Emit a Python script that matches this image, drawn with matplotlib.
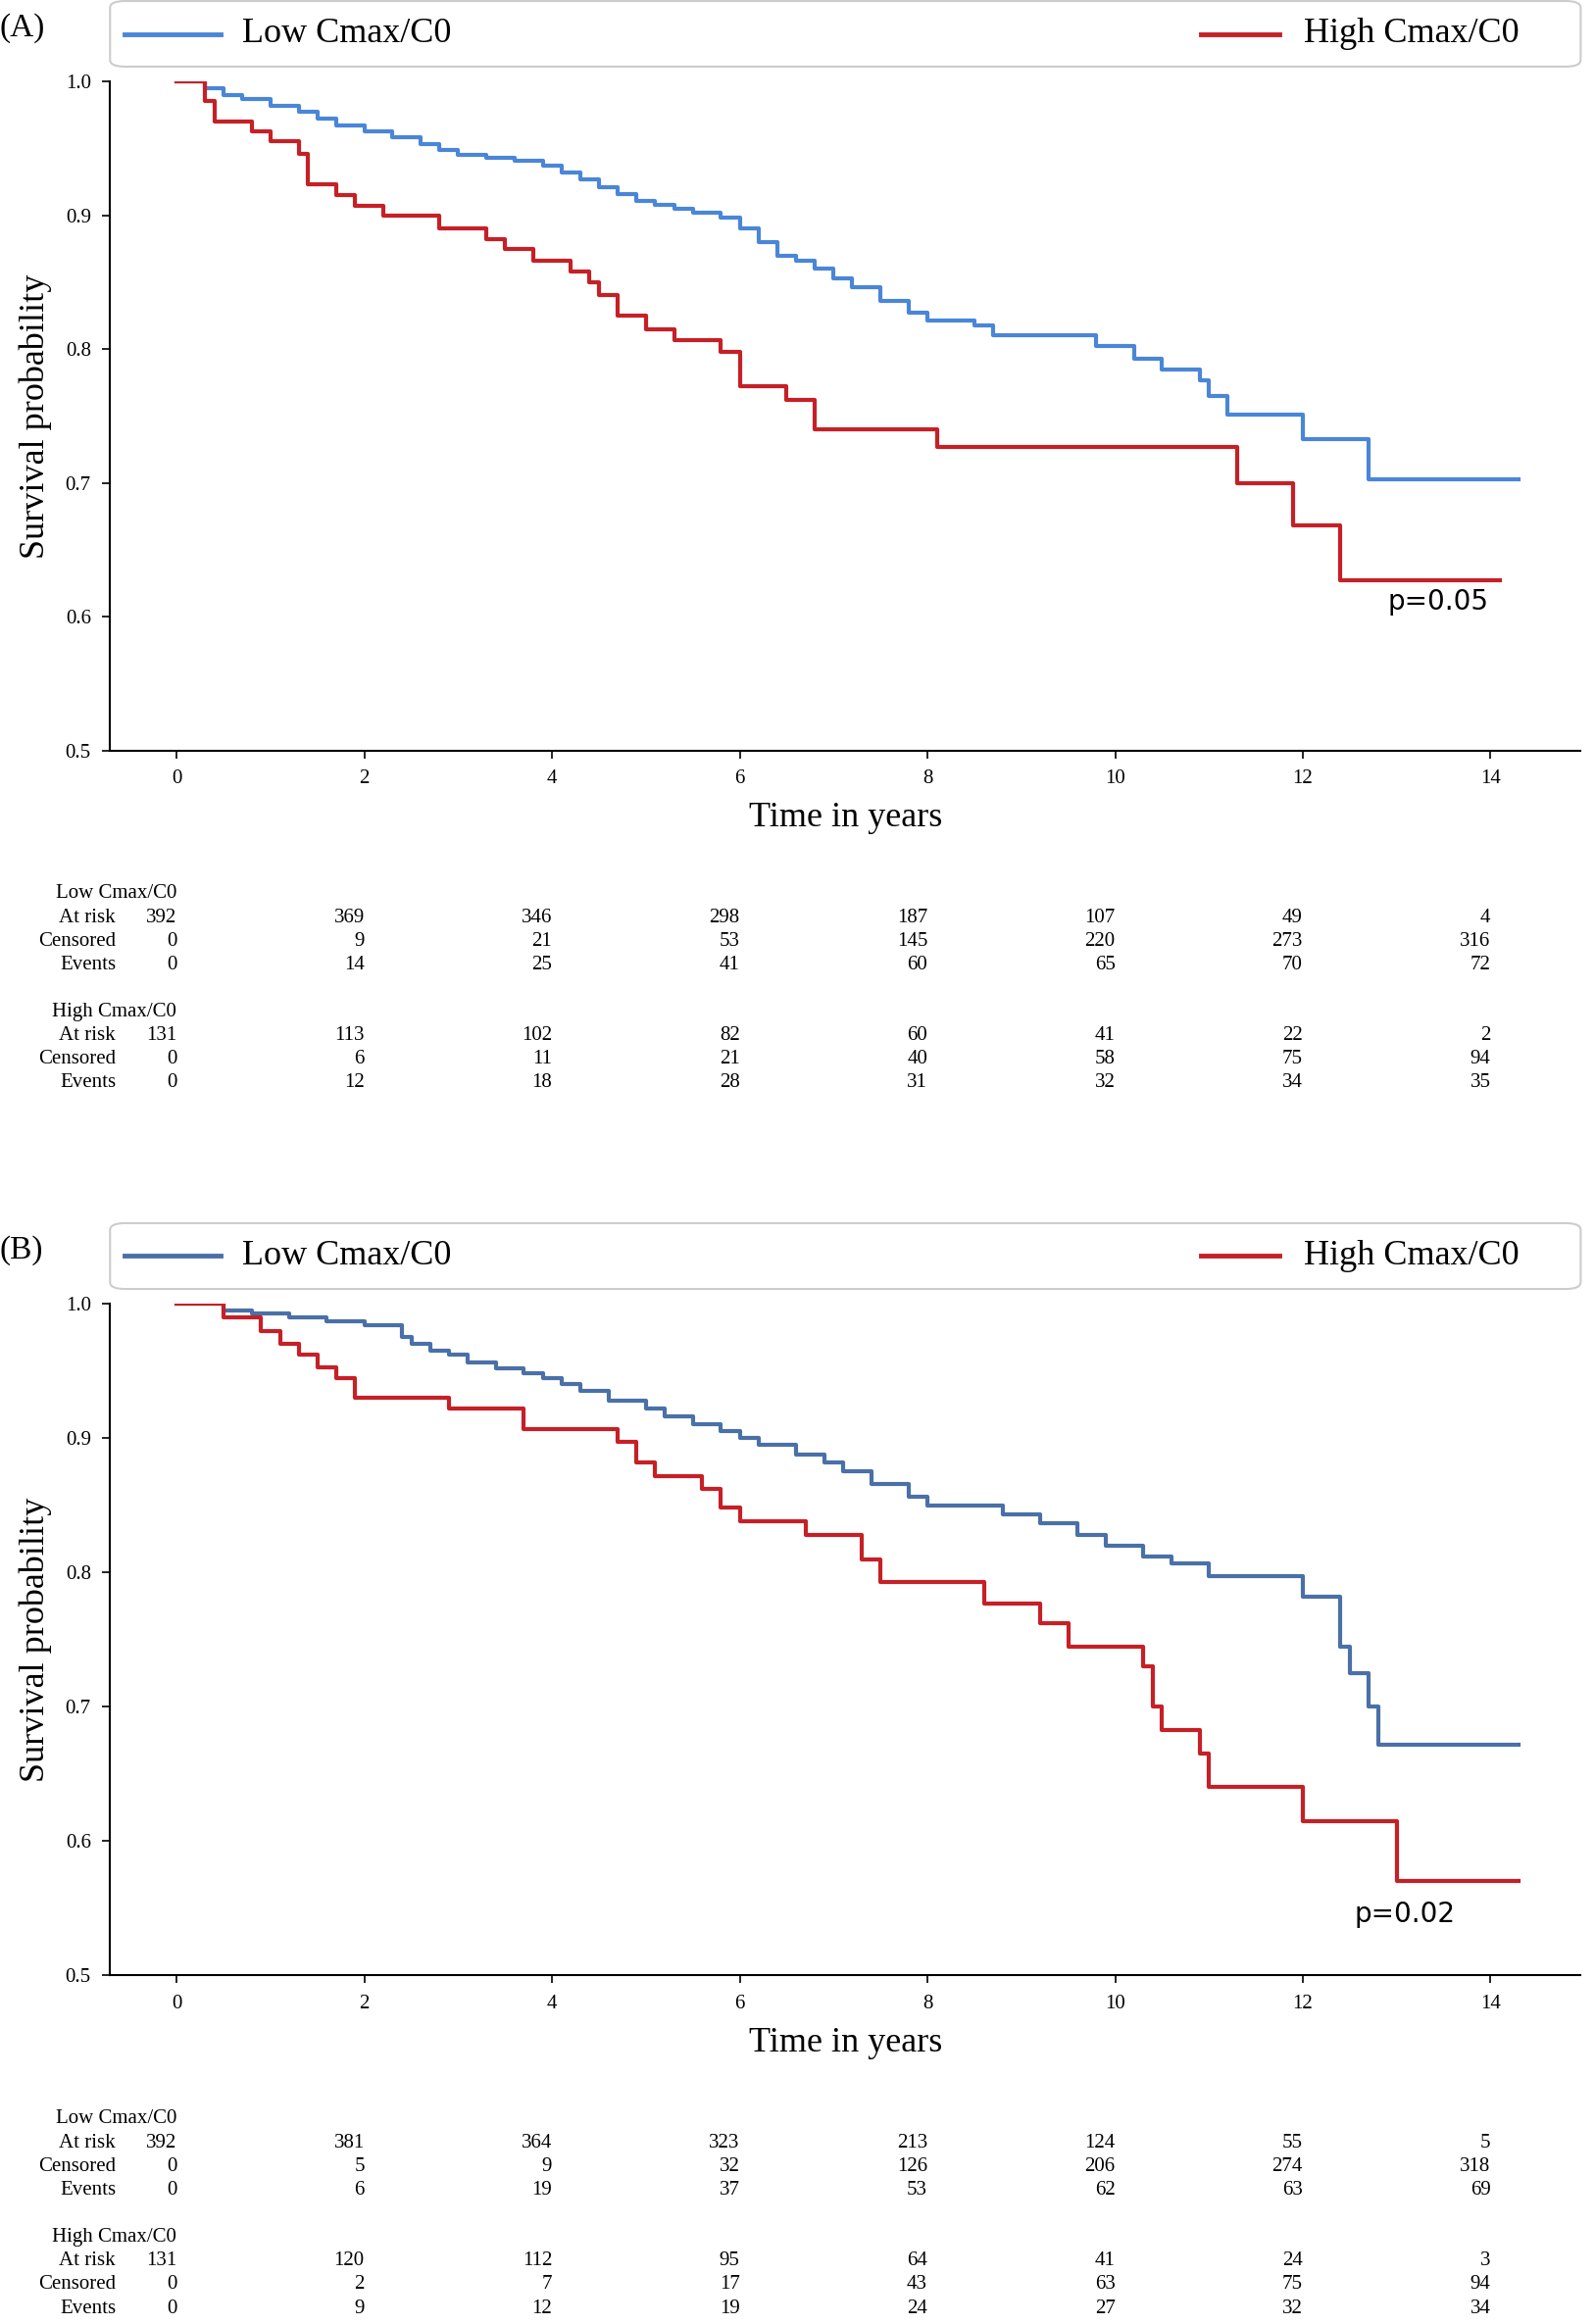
import matplotlib.pyplot as plt
from matplotlib.patches import FancyBboxPatch

# ---- curve data (step functions) ----
a_low_t = [0, 0.3, 0.5, 0.7, 1.0, 1.3, 1.5, 1.7, 2.0, 2.3, 2.6, 2.8, 3.0, 3.3, 3.6, 3.9, 4.1, 4.3,
           4.5, 4.7, 4.9, 5.1, 5.3, 5.5, 5.8, 6.0, 6.2, 6.4, 6.6, 6.8, 7.0, 7.2, 7.5, 7.8, 8.0, 8.5,
           8.7, 9.8, 10.2, 10.5, 10.9, 11.0, 11.2, 12.0, 12.7, 14.3]
a_low_s = [1.0, 0.995, 0.99, 0.987, 0.982, 0.977, 0.972, 0.967, 0.963, 0.958, 0.953, 0.949, 0.945,
           0.943, 0.941, 0.937, 0.932, 0.927, 0.921, 0.916, 0.911, 0.908, 0.905, 0.902, 0.898, 0.89,
           0.88, 0.87, 0.866, 0.86, 0.853, 0.846, 0.836, 0.827, 0.821, 0.818, 0.81, 0.802, 0.793,
           0.785, 0.777, 0.765, 0.751, 0.733, 0.703, 0.703]
a_high_t = [0, 0.3, 0.4, 0.8, 1.0, 1.3, 1.4, 1.7, 1.9, 2.2, 2.8, 3.3, 3.5, 3.8, 4.2, 4.4, 4.5,
            4.7, 5.0, 5.3, 5.8, 6.0, 6.5, 6.8, 8.1, 11.3, 11.9, 12.4, 14.1]
a_high_s = [1.0, 0.985, 0.97, 0.963, 0.955, 0.946, 0.923, 0.915, 0.907, 0.9, 0.89, 0.882, 0.875,
            0.866, 0.858, 0.85, 0.84, 0.825, 0.815, 0.807, 0.798, 0.772, 0.762, 0.74, 0.727,
            0.7, 0.668, 0.627, 0.627]
b_low_t = [0, 0.5, 0.8, 1.2, 1.6, 2.0, 2.4, 2.5, 2.7, 2.9, 3.1, 3.4, 3.7, 3.9, 4.1, 4.3, 4.6,
           5.0, 5.2, 5.5, 5.8, 6.0, 6.2, 6.6, 6.9, 7.1, 7.4, 7.8, 8.0, 8.8, 9.2, 9.6, 9.9,
           10.3, 10.6, 11.0, 12.0, 12.4, 12.5, 12.7, 12.8, 14.3]
b_low_s = [1.0, 0.995, 0.993, 0.99, 0.987, 0.984, 0.975, 0.97, 0.965, 0.962, 0.956, 0.952,
           0.948, 0.945, 0.94, 0.935, 0.928, 0.922, 0.916, 0.91, 0.905, 0.9, 0.895, 0.888, 0.882,
           0.875, 0.866, 0.856, 0.85, 0.843, 0.837, 0.828, 0.82, 0.812, 0.807, 0.797, 0.782,
           0.745, 0.725, 0.7, 0.672, 0.672]
b_high_t = [0, 0.5, 0.9, 1.1, 1.3, 1.5, 1.7, 1.9, 2.9, 3.7, 4.7, 4.9, 5.1, 5.6, 5.8, 6.0,
            6.7, 7.3, 7.5, 8.6, 9.2, 9.5, 10.3, 10.4, 10.5, 10.9, 11.0, 12.0, 13.0, 14.3]
b_high_s = [1.0, 0.99, 0.98, 0.97, 0.962, 0.953, 0.945, 0.93, 0.922, 0.907, 0.897, 0.882,
            0.872, 0.862, 0.848, 0.838, 0.828, 0.81, 0.793, 0.777, 0.762, 0.745, 0.73, 0.7,
            0.683, 0.665, 0.64, 0.615, 0.57, 0.57]

# ---- risk tables ----
table_times = [0, 2, 4, 6, 8, 10, 12, 14]
a_low_risk = [392, 369, 346, 298, 187, 107, 49, 4]
a_low_cens = [0, 9, 21, 53, 145, 220, 273, 316]
a_low_ev = [0, 14, 25, 41, 60, 65, 70, 72]
a_high_risk = [131, 113, 102, 82, 60, 41, 22, 2]
a_high_cens = [0, 6, 11, 21, 40, 58, 75, 94]
a_high_ev = [0, 12, 18, 28, 31, 32, 34, 35]
b_low_risk = [392, 381, 364, 323, 213, 124, 55, 5]
b_low_cens = [0, 5, 9, 32, 126, 206, 274, 318]
b_low_ev = [0, 6, 19, 37, 53, 62, 63, 69]
b_high_risk = [131, 120, 112, 95, 64, 41, 24, 3]
b_high_cens = [0, 2, 7, 17, 43, 63, 75, 94]
b_high_ev = [0, 9, 12, 19, 24, 27, 32, 34]

RED = '#c62026'
SERIF = 'Liberation Serif'

fig = plt.figure(figsize=(16.27, 23.71), dpi=100)


def panel(rect, tag, lo_t, lo_s, hi_t, hi_s, blue, pval, pxy, tables):
    ax = fig.add_axes(rect)
    ax.step(lo_t, lo_s, where='post', color=blue, lw=3)
    ax.step(hi_t, hi_s, where='post', color=RED, lw=3)
    ax.set_xlim(-0.71, 14.96)
    ax.set_ylim(0.5, 1.0)
    ax.set_xticks(range(0, 15, 2))
    ax.set_yticks([0.5, 0.6, 0.7, 0.8, 0.9, 1.0])
    ax.set_yticklabels(['0.5', '0.6', '0.7', '0.8', '0.9', '1.0'])
    for lab in ax.get_xticklabels() + ax.get_yticklabels():
        lab.set_fontfamily(SERIF)
        lab.set_fontsize(15)
    ax.tick_params(length=6, width=1.2, pad=8)
    ax.spines['top'].set_visible(False)
    ax.spines['right'].set_visible(False)
    for s in ('left', 'bottom'):
        ax.spines[s].set_linewidth(1.5)
    ax.set_xlabel('Time in years', fontsize=26, family=SERIF, labelpad=10)
    ax.set_ylabel('Survival probability', fontsize=26, family=SERIF, labelpad=10)
    ax.text(pxy[0], pxy[1], pval, fontsize=20, family='DejaVu Sans')
    # legend box spanning the top
    box = FancyBboxPatch((0, 1.022), 1.0, 0.098, boxstyle='round,pad=0,rounding_size=0.01',
                         transform=ax.transAxes, clip_on=False, fc='white', ec='#cccccc', lw=1.5)
    ax.add_patch(box)
    ax.plot([0.01, 0.075], [1.071, 1.071], transform=ax.transAxes, color=blue, lw=3.5, clip_on=False)
    ax.text(0.09, 1.071, 'Low Cmax/C0', transform=ax.transAxes, fontsize=26, family=SERIF, va='center')
    ax.plot([0.742, 0.795], [1.071, 1.071], transform=ax.transAxes, color=RED, lw=3.5, clip_on=False)
    ax.text(0.812, 1.071, 'High Cmax/C0', transform=ax.transAxes, fontsize=26, family=SERIF, va='center')
    ax.text(-0.075, 1.08, tag, transform=ax.transAxes, fontsize=24, family=SERIF, va='center')
    # risk tables
    tr = ax.get_xaxis_transform()
    y0 = -0.214
    dy = -0.0353
    for g, (name, risk, cens, ev) in enumerate(tables):
        yb = y0 + g * -0.176
        ax.text(0, yb, name, transform=tr, ha='right', fontsize=15, family=SERIF, va='center')
        for r, (lab, vals) in enumerate([('At risk', risk), ('Censored', cens), ('Events', ev)]):
            y = yb + (r + 1) * dy
            ax.text(-0.65, y, lab, transform=tr, ha='right', fontsize=15, family=SERIF, va='center')
            for t, v in zip(table_times, vals):
                ax.text(t, y, str(v), transform=tr, ha='right', fontsize=15, family=SERIF, va='center')
    return ax


panel([0.069, 0.677, 0.922, 0.288], '(A)', a_low_t, a_low_s, a_high_t, a_high_s,
      '#4a86d8', 'p=0.05', (12.9, 0.605),
      [('Low Cmax/C0', a_low_risk, a_low_cens, a_low_ev),
       ('High Cmax/C0', a_high_risk, a_high_cens, a_high_ev)])
panel([0.069, 0.150, 0.922, 0.289], '(B)', b_low_t, b_low_s, b_high_t, b_high_s,
      '#4a70a8', 'p=0.02', (12.55, 0.54),
      [('Low Cmax/C0', b_low_risk, b_low_cens, b_low_ev),
       ('High Cmax/C0', b_high_risk, b_high_cens, b_high_ev)])

fig.savefig('out.png', dpi=100)
